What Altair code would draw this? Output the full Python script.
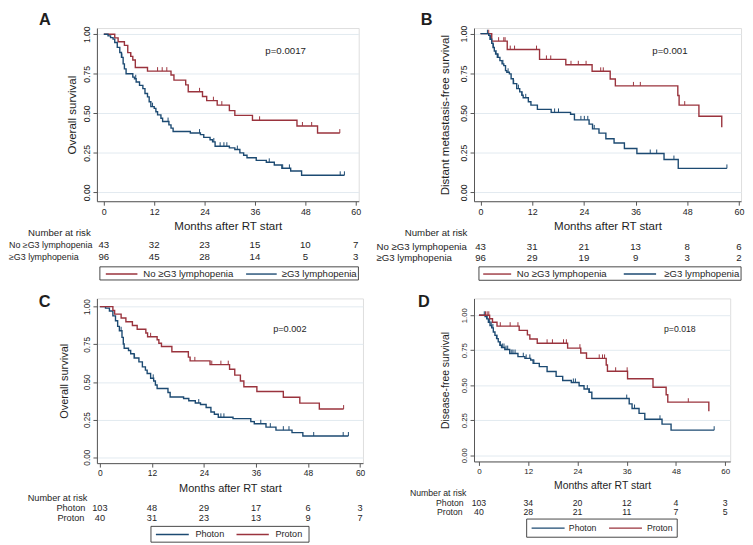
import altair as alt
import pandas as pd

FONT = "Liberation Sans"
RED = "#9a333d"
BLUE = "#1c4a72"
GRID = "#e2eaf0"
AXC = "#555555"
TXT = "#1e1e1e"

MONTHS = [0, 12, 24, 36, 48, 60]
SURV_TICKS = [0, 0.25, 0.5, 0.75, 1.0]

# ---------------- Panel A: overall survival by lymphopenia ----------------
A_ytitle = "Overall survival"
A_pval = "p=0.0017"
A_groups = ["No ≥G3 lymphopenia", "≥G3 lymphopenia"]
A_no_t = [0, 2.6, 3.4, 4.9, 5.7, 6.4, 6.9, 7.5, 10.4, 16.0, 16.7, 19.5, 20.1, 23.5, 24.5, 27.0, 29.9, 31.2, 35.4, 46.0, 50.9, 56.2]
A_no_s = [1.0, 0.977, 0.953, 0.930, 0.884, 0.860, 0.837, 0.790, 0.767, 0.742, 0.710, 0.680, 0.636, 0.606, 0.580, 0.552, 0.517, 0.487, 0.456, 0.420, 0.375, 0.375]
A_no_cens = [6.4, 12.8, 13.9, 15.0, 22.8, 26.1, 28.1, 37.1, 47.3, 49.5, 56.2]
A_g3_t = [0, 1.0, 1.6, 2.2, 2.6, 3.2, 3.8, 4.2, 4.6, 4.9, 5.3, 6.9, 7.3, 7.7, 8.5, 9.3, 9.8, 10.4, 10.8, 11.2, 12.0, 12.4, 12.8, 13.6, 14.0, 15.5, 16.0, 16.5, 20.6, 23.0, 23.8, 25.3, 25.9, 26.5, 29.9, 31.2, 32.4, 33.3, 34.1, 36.3, 38.7, 40.6, 42.4, 44.5, 47.1, 57.3]
A_g3_s = [1.0, 0.990, 0.979, 0.969, 0.948, 0.917, 0.885, 0.854, 0.813, 0.781, 0.750, 0.729, 0.719, 0.698, 0.677, 0.656, 0.625, 0.604, 0.573, 0.542, 0.531, 0.510, 0.490, 0.469, 0.448, 0.427, 0.406, 0.385, 0.375, 0.365, 0.348, 0.333, 0.319, 0.292, 0.281, 0.271, 0.250, 0.235, 0.219, 0.202, 0.190, 0.173, 0.152, 0.135, 0.108, 0.108]
A_g3_cens = [4.3, 7.6, 11.6, 15.3, 22.8, 26.2, 27.7, 28.6, 29.3, 31.8, 39.4, 42.6, 44.2, 56.3, 57.3]
A_risk_no = [43, 32, 23, 15, 10, 7]
A_risk_g3 = [96, 45, 28, 14, 5, 3]

# ---------------- Panel B: distant metastasis-free survival ----------------
B_ytitle = "Distant metastasis-free survival"
B_pval = "p=0.001"
B_groups = ["No ≥G3 lymphopenia", "≥G3 lymphopenia"]
B_no_t = [0, 2.6, 6.2, 13.7, 19.8, 25.9, 30.1, 31.3, 45.8, 46.1, 50.7, 56.0]
B_no_s = [1.0, 0.953, 0.900, 0.838, 0.804, 0.763, 0.714, 0.671, 0.610, 0.550, 0.480, 0.410]
B_no_cens = [1.9, 4.2, 5.4, 5.7, 6.9, 7.9, 13.0, 15.3, 16.3, 21.0, 22.7, 24.5, 27.9, 28.5, 35.5, 37.1, 47.4]
B_g3_t = [0, 1.9, 2.2, 2.6, 2.9, 3.2, 3.5, 3.9, 4.5, 5.0, 5.4, 5.8, 6.1, 6.7, 7.1, 7.6, 8.4, 9.1, 9.6, 9.9, 11.1, 11.7, 13.2, 16.4, 20.9, 21.8, 25.2, 26.0, 27.5, 29.1, 31.0, 33.4, 36.3, 42.6, 45.9, 57.2]
B_g3_s = [1.0, 0.990, 0.965, 0.940, 0.913, 0.890, 0.872, 0.851, 0.830, 0.810, 0.799, 0.767, 0.757, 0.747, 0.716, 0.685, 0.654, 0.633, 0.612, 0.596, 0.571, 0.550, 0.523, 0.504, 0.492, 0.457, 0.430, 0.400, 0.373, 0.338, 0.311, 0.276, 0.245, 0.207, 0.151, 0.151]
B_g3_cens = [1.6, 2.3, 3.0, 3.6, 4.1, 5.2, 6.4, 7.7, 8.8, 9.6, 10.5, 17.2, 18.1, 23.3, 24.1, 24.9, 26.4, 39.4, 40.9, 44.9, 57.2]
B_risk_no = [43, 31, 21, 13, 8, 6]
B_risk_g3 = [96, 29, 19, 9, 3, 2]

# ---------------- Panel C: overall survival, photon vs proton ----------------
C_ytitle = "Overall survival"
C_pval = "p=0.002"
C_groups = ["Photon", "Proton"]
C_ph_t = [0, 1.3, 2.2, 3.0, 3.6, 4.1, 4.5, 5.1, 5.4, 5.6, 6.6, 7.1, 7.9, 9.0, 9.8, 10.5, 10.9, 11.7, 12.4, 12.8, 13.2, 15.7, 16.2, 19.3, 20.5, 22.0, 23.2, 24.5, 25.6, 26.4, 27.3, 30.7, 34.8, 35.6, 38.3, 40.6, 44.3, 46.8, 57.3]
C_ph_s = [1.0, 0.990, 0.971, 0.939, 0.906, 0.869, 0.840, 0.796, 0.752, 0.724, 0.709, 0.687, 0.659, 0.633, 0.600, 0.578, 0.556, 0.524, 0.506, 0.480, 0.456, 0.430, 0.400, 0.390, 0.375, 0.360, 0.350, 0.330, 0.300, 0.285, 0.265, 0.256, 0.236, 0.222, 0.200, 0.180, 0.163, 0.141, 0.141]
C_ph_cens = [4.9, 8.0, 12.3, 22.8, 27.9, 28.6, 37.1, 39.3, 42.3, 43.6, 49.3, 56.1, 57.3]
C_pr_t = [0, 3.0, 3.4, 4.9, 6.0, 7.5, 8.6, 10.6, 11.0, 13.2, 13.6, 14.2, 16.6, 20.4, 20.8, 25.4, 29.9, 31.1, 32.4, 33.2, 36.2, 42.3, 46.1, 50.6, 56.2]
C_pr_s = [1.0, 0.975, 0.950, 0.925, 0.900, 0.875, 0.850, 0.825, 0.800, 0.780, 0.757, 0.735, 0.700, 0.665, 0.640, 0.615, 0.584, 0.545, 0.506, 0.468, 0.436, 0.398, 0.359, 0.320, 0.320]
C_pr_cens = [11.7, 21.9, 25.8, 27.9, 29.6, 56.2]
C_risk_ph = [103, 48, 29, 17, 6, 3]
C_risk_pr = [40, 31, 23, 13, 9, 7]

# ---------------- Panel D: disease-free survival, photon vs proton ----------------
D_ytitle = "Disease-free survival"
D_pval = "p=0.018"
D_groups = ["Photon", "Proton"]
D_ph_t = [0, 1.5, 1.9, 2.3, 2.7, 3.1, 3.5, 3.9, 4.3, 4.7, 5.1, 5.5, 6.3, 7.5, 9.5, 11.2, 12.6, 13.2, 14.7, 16.6, 18.8, 20.4, 22.5, 24.4, 25.6, 26.8, 27.5, 36.6, 37.3, 39.0, 40.4, 44.6, 46.8, 57.3]
D_ph_s = [1.0, 0.990, 0.974, 0.950, 0.927, 0.910, 0.880, 0.856, 0.833, 0.810, 0.786, 0.770, 0.755, 0.727, 0.704, 0.692, 0.680, 0.656, 0.633, 0.598, 0.563, 0.534, 0.520, 0.496, 0.473, 0.450, 0.405, 0.367, 0.334, 0.299, 0.257, 0.222, 0.179, 0.179]
D_ph_cens = [1.3, 2.0, 2.6, 3.0, 3.4, 4.4, 5.2, 5.7, 6.1, 6.6, 7.0, 7.5, 8.0, 8.3, 8.8, 10.8, 11.5, 12.4, 13.4, 23.0, 23.5, 26.4, 26.9, 36.0, 37.9, 44.1, 57.3]
D_pr_t = [0, 2.6, 3.3, 4.4, 9.8, 11.8, 12.4, 14.2, 21.6, 24.8, 26.2, 31.0, 31.3, 36.2, 42.4, 45.6, 46.0, 56.0]
D_pr_s = [1.0, 0.975, 0.950, 0.922, 0.892, 0.860, 0.830, 0.800, 0.765, 0.730, 0.692, 0.645, 0.600, 0.546, 0.486, 0.432, 0.379, 0.315]
D_pr_cens = [1.6, 2.0, 2.4, 5.2, 7.6, 9.5, 16.6, 17.9, 20.6, 21.3, 24.6, 29.3, 30.1, 30.6, 33.3, 36.1, 51.0]
D_risk_ph = [103, 34, 20, 12, 4, 3]
D_risk_pr = [40, 28, 21, 11, 7, 5]

RISK_HEADER = "Number at risk"
ONE = pd.DataFrame({"k": [0]})


def step_value(t, s, c):
    v = s[0]
    for ti, si in zip(t, s):
        if ti <= c:
            v = si
    return v


def label(text, x, y, size, align="left", baseline="middle", weight="normal"):
    return alt.Chart(ONE).mark_text(
        text=text, fontSize=size, align=align, baseline=baseline,
        fontWeight=weight, color=TXT, font=FONT
    ).encode(x=alt.value(x), y=alt.value(y))


def panel(g):
    k = g["k"]
    xs = alt.Scale(domain=g["xdom"], nice=False, zero=False)
    ys = alt.Scale(domain=g["ydom"], nice=False, zero=False)
    xax = alt.Axis(values=MONTHS, title="Months after RT start", grid=False,
                   domainColor=AXC, tickColor=AXC, tickSize=4, labelFlush=False,
                   labelFontSize=9 * k, labelColor=TXT, labelPadding=2,
                   titleFontSize=11.7 * k, titleFontWeight="normal", titleColor=TXT,
                   titlePadding=g["xtp"])
    yax = alt.Axis(values=SURV_TICKS, format=".2f", title=g["ytitle"], grid=True,
                   gridColor=GRID, gridWidth=1, domainColor=AXC, tickColor=AXC,
                   tickSize=4, labelAngle=270, labelAlign="center", labelBaseline="bottom",
                   labelFlush=False, labelFontSize=8.7 * k, labelColor=TXT, labelPadding=2,
                   titleFontSize=11.7 * k, titleFontWeight="normal", titleColor=TXT,
                   titlePadding=g["ytp"])
    X = alt.X("t:Q", scale=xs, axis=xax)
    Y = alt.Y("s:Q", scale=ys, axis=yax)

    layers = []
    for t, s, cens, name, col in g["curves"]:
        line_df = pd.DataFrame({"t": t, "s": s, "g": name})
        cens_df = pd.DataFrame({"t": cens, "s": [step_value(t, s, c) for c in cens], "g": name})
        layers.append(alt.Chart(line_df).mark_line(interpolate="step-after", strokeWidth=1.4, color=col)
                      .encode(X, Y))
        layers.append(alt.Chart(cens_df).mark_point(shape="M0,-1L0,0", filled=False, size=64,
                                                    strokeWidth=1, opacity=1, color=col)
                      .encode(X, Y))
    fs = g["fs"]
    # risk table
    for counts, ry in zip(g["risk"], g["risk_y"]):
        df = pd.DataFrame({"t": MONTHS, "n": counts})
        layers.append(alt.Chart(df).mark_text(fontSize=fs, color=TXT, baseline="middle", align="center")
                      .encode(x=X, y=alt.value(ry), text=alt.Text("n:Q", format="d")))
    layers.append(label(RISK_HEADER, g["nar_x"], g["nar_y"], fs, align="right"))
    for name, ry in zip(g["row_names"], g["risk_y"]):
        layers.append(label(name, g["row_x"], ry, g["row_fs"], align=g["row_align"]))
    # p-value and panel letter
    layers.append(label(g["pval"], g["p_xy"][0], g["p_xy"][1], 9.8 * k, align="center"))
    layers.append(label(g["letter"], g["let_xy"][0], g["let_xy"][1], 16.5, baseline="top", weight="bold"))
    # legend box
    bx1, bx2, by1, by2 = g["box"]
    layers.append(alt.Chart(ONE).mark_rect(filled=False, color="#333333", strokeWidth=0.9)
                  .encode(x=alt.value(bx1), x2=alt.value(bx2), y=alt.value(by1), y2=alt.value(by2)))
    for (lx1, lx2, tx, name, col) in g["leg"]:
        layers.append(alt.Chart(ONE).mark_rule(color=col, strokeWidth=1.4)
                      .encode(x=alt.value(lx1), x2=alt.value(lx2), y=alt.value(g["leg_y"])))
        layers.append(label(name, tx, g["leg_y"] - 0.5, g["leg_fs"]))
    return alt.layer(*layers).properties(width=g["w"], height=g["h"])


pA = panel(dict(
    k=1.0, w=265, h=175.3, xdom=[-1.647, 60.706], ydom=[-0.05625, 1.0394], xtp=5, ytp=5,
    ytitle=A_ytitle, pval=A_pval,
    curves=[(A_no_t, A_no_s, A_no_cens, A_groups[0], RED), (A_g3_t, A_g3_s, A_g3_cens, A_groups[1], BLUE)],
    risk=[A_risk_no, A_risk_g3], risk_y=[220, 232], fs=9.75,
    nar_x=-6.3, nar_y=207.7, row_names=A_groups, row_x=-89, row_fs=9.0, row_align="left",
    p_xy=(191, 23.7), letter="A", let_xy=(-58.7, -16),
    box=(3, 264.7, 241.7, 255.0), leg_y=249, leg_fs=9.7,
    leg=[(9, 41, 47, A_groups[0], RED), (151, 182, 187, A_groups[1], BLUE)],
))

pB = panel(dict(
    k=1.0, w=270.3, h=175.3, xdom=[-1.514, 60.48], ydom=[-0.056, 1.0355], xtp=5, ytp=9,
    ytitle=B_ytitle, pval=B_pval,
    curves=[(B_no_t, B_no_s, B_no_cens, B_groups[0], RED), (B_g3_t, B_g3_s, B_g3_cens, B_groups[1], BLUE)],
    risk=[B_risk_no, B_risk_g3], risk_y=[221.5, 232.7], fs=9.75,
    nar_x=-6.7, nar_y=207.7, row_names=B_groups, row_x=-98.7, row_fs=9.75, row_align="left",
    p_xy=(198.3, 23.7), letter="B", let_xy=(-54, -16),
    box=(5, 270.3, 241.7, 255.3), leg_y=249, leg_fs=9.7,
    leg=[(9.3, 37.6, 43.3, B_groups[0], RED), (151.6, 184.3, 192.6, B_groups[1], BLUE)],
))

pC = panel(dict(
    k=0.95, w=269.3, h=166.7, xdom=[-0.683, 60.66], ydom=[-0.0394, 1.0545], xtp=5, ytp=13,
    ytitle=C_ytitle, pval=C_pval,
    curves=[(C_ph_t, C_ph_s, C_ph_cens, C_groups[0], BLUE), (C_pr_t, C_pr_s, C_pr_cens, C_groups[1], RED)],
    risk=[C_risk_ph, C_risk_pr], risk_y=[212.3, 222], fs=9.3,
    nar_x=-9.7, nar_y=201.7, row_names=C_groups, row_x=-26.3, row_fs=9.3, row_align="center",
    p_xy=(195.3, 31), letter="C", let_xy=(-59, -4.5),
    box=(54.7, 214.7, 230.7, 246.7), leg_y=239, leg_fs=9.2,
    leg=[(59.7, 93, 99.7, C_groups[0], BLUE), (141.3, 174, 180.7, C_groups[1], RED)],
))

pD = panel(dict(
    k=0.9, w=259.3, h=165, xdom=[-1.203, 61.2], ydom=[-0.0445, 1.12], xtp=5, ytp=10,
    ytitle=D_ytitle, pval=D_pval,
    curves=[(D_ph_t, D_ph_s, D_ph_cens, D_groups[0], BLUE), (D_pr_t, D_pr_s, D_pr_cens, D_groups[1], RED)],
    risk=[D_risk_ph, D_risk_pr], risk_y=[206.7, 216.7], fs=8.8,
    nar_x=-7.7, nar_y=196.7, row_names=D_groups, row_x=-24.5, row_fs=8.8, row_align="center",
    p_xy=(208.3, 31), letter="D", let_xy=(-56.7, -4.5),
    box=(53.3, 205.7, 223.3, 241.7), leg_y=232.5, leg_fs=8.8,
    leg=[(58.3, 91.7, 96, D_groups[0], BLUE), (136.7, 170, 175, D_groups[1], RED)],
))

chart = alt.concat(
    pA, pB, pC, pD, columns=2,
    spacing={"row": 97.7, "column": 111.7}, align="none", bounds="flush",
).properties(padding=0).configure_view(stroke=None).configure(font=FONT)

chart.save("out.html", embed_options={"renderer": "svg", "actions": False})
